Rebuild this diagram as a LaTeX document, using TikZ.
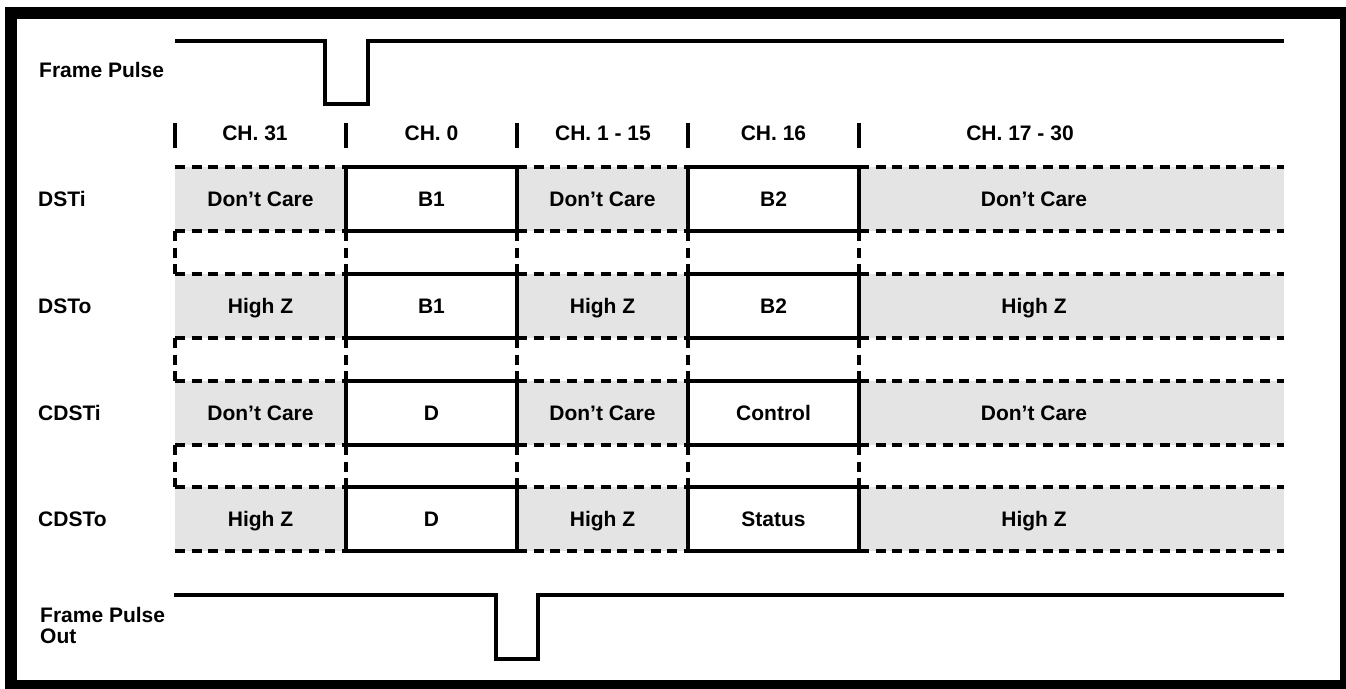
\documentclass[tikz,border=0pt]{standalone}
\usepackage{fontspec}
\setmainfont{Liberation Sans}
\definecolor{gfill}{RGB}{228,228,228}
\begin{document}
\begin{tikzpicture}[x=1pt,y=-1pt,
  lbl/.style={font=\bfseries\fontsize{21}{21}\selectfont, inner sep=0pt},
  wave/.style={line width=3.2pt, line join=miter},
  dsh/.style={line width=3.2pt, dash pattern=on 10pt off 6.7pt},
  solidbox/.style={line width=3.2pt, fill=white},
  chmark/.style={line width=3.8pt}]
\useasboundingbox (0,0) rectangle (1346,688);
\fill[white] (0,0) rectangle (1346,688);
\draw[line width=12pt] (10.5,12.5) rectangle (1346,686);

% rows
\foreach \t in {167,274,381,487} {
  \fill[gfill] (175,\t) rectangle (1284,\t+64);
  \foreach \a/\b in {175/346, 517/688, 859/1284} {
    \draw[dsh] (\a,\t) -- (\b,\t);
    \draw[dsh] (\a,\t+64) -- (\b,\t+64);
  }
  \draw[solidbox] (346,\t) rectangle (517,\t+64);
  \draw[solidbox] (688,\t) rectangle (859,\t+64);
}
% gaps
\foreach \g/\h in {231/274, 338/381, 445/487} {
  \foreach \x in {175,346,517,688,859} {
    \draw[dsh] (\x,\g) -- (\x,\h);
  }
}
% channel markers
\foreach \x in {175,346,517,688,859} {
  \draw[chmark] (\x,123) -- (\x,148);
}
% waveforms
\draw[wave] (175,41) -- (325,41) -- (325,104) -- (368,104) -- (368,41) -- (1284,41);
\draw[wave] (174,595) -- (496,595) -- (496,659) -- (538,659) -- (538,595) -- (1284,595);

% left labels
\node[lbl, anchor=base west] (fp) at (39,77) {Frame Pulse};
\node[lbl, anchor=base west] (dsti) at (38,206) {DSTi};
\node[lbl, anchor=base west] (dsto) at (38,313) {DSTo};
\node[lbl, anchor=base west] (cdsti) at (38,420) {CDSTi};
\node[lbl, anchor=base west] (cdsto) at (38,526) {CDSTo};
\node[lbl, anchor=north west, align=left] (fpo) at (40,607.5) {Frame Pulse\\Out};

% headers
\node[lbl, anchor=base] (h0) at (255,140) {CH. 31};
\node[lbl, anchor=base] (h1) at (431.5,140) {CH. 0};
\node[lbl, anchor=base] (h2) at (603,140) {CH. 1 - 15};
\node[lbl, anchor=base] (h3) at (773.5,140) {CH. 16};
\node[lbl, anchor=base] (h4) at (1020,140) {CH. 17 - 30};

% row texts
\foreach \yb/\ta/\tb/\tc/\td/\te/\nm in {
  206/Don’t Care/B1/Don’t Care/B2/Don’t Care/a,
  313/High Z/B1/High Z/B2/High Z/b,
  420/Don’t Care/D/Don’t Care/Control/Don’t Care/c,
  526/High Z/D/High Z/Status/High Z/d} {
  \node[lbl, anchor=base] (\nm1) at (260.5,\yb) {\ta};
  \node[lbl, anchor=base] (\nm2) at (431.5,\yb) {\tb};
  \node[lbl, anchor=base] (\nm3) at (602.5,\yb) {\tc};
  \node[lbl, anchor=base] (\nm4) at (773.5,\yb) {\td};
  \node[lbl, anchor=base] (\nm5) at (1034,\yb) {\te};
}
\end{tikzpicture}
\end{document}
